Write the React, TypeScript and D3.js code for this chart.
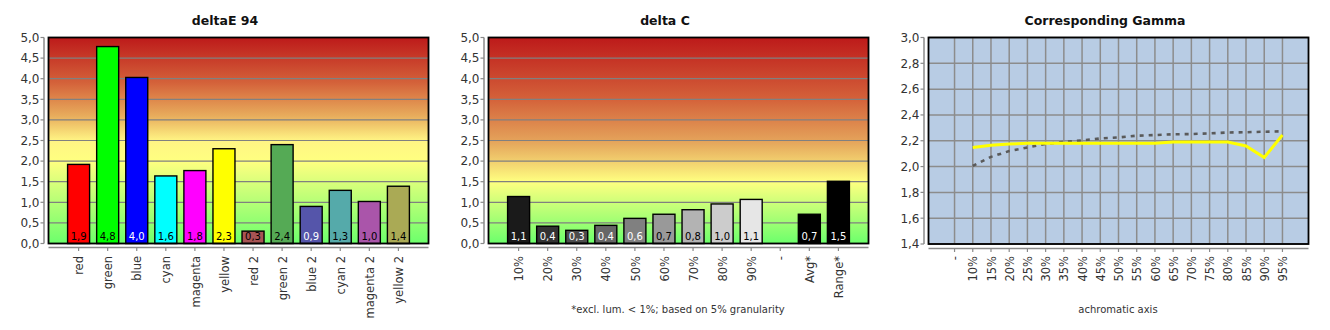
import React from 'react';
import * as d3 from 'd3';

// ---------- data ----------
const deCategories = ['red', 'green', 'blue', 'cyan', 'magenta', 'yellow', 'red 2', 'green 2', 'blue 2', 'cyan 2', 'magenta 2', 'yellow 2'];
const deValues = [1.92, 4.78, 4.03, 1.64, 1.77, 2.3, 0.3, 2.4, 0.9, 1.29, 1.02, 1.39];
const deColors = ['#ff0000', '#00ff00', '#0000ff', '#00ffff', '#ff00ff', '#ffff00', '#a85454', '#55aa55', '#5555aa', '#55aaaa', '#aa55aa', '#aaaa55'];
const deLabelColors = ['#000', '#000', '#fff', '#000', '#000', '#000', '#000', '#000', '#fff', '#000', '#000', '#000'];

const dcCategories = ['10%', '20%', '30%', '40%', '50%', '60%', '70%', '80%', '90%', '-', 'Avg*', 'Range*'];
const dcValues: (number | null)[] = [1.14, 0.42, 0.32, 0.44, 0.61, 0.71, 0.82, 0.96, 1.07, null, 0.71, 1.51];
const dcColors = ['#1a1a1a', '#333333', '#4d4d4d', '#666666', '#808080', '#999999', '#b3b3b3', '#cccccc', '#e6e6e6', '#000', '#000000', '#000000'];
const dcLabelColors = ['#fff', '#fff', '#fff', '#fff', '#fff', '#000', '#000', '#000', '#000', '#000', '#fff', '#fff'];

const gammaCategories = ['-', '10%', '15%', '20%', '25%', '30%', '35%', '40%', '45%', '50%', '55%', '60%', '65%', '70%', '75%', '80%', '85%', '90%', '95%'];
const gammaMeasured: (number | null)[] = [null, 2.148, 2.165, 2.175, 2.18, 2.18, 2.18, 2.18, 2.18, 2.18, 2.18, 2.18, 2.19, 2.19, 2.19, 2.19, 2.16, 2.07, 2.245];
const gammaTarget: (number | null)[] = [null, 2.005, 2.075, 2.12, 2.148, 2.175, 2.19, 2.203, 2.218, 2.226, 2.239, 2.244, 2.25, 2.252, 2.257, 2.264, 2.266, 2.27, 2.273];

const barTicks = [0, 0.5, 1, 1.5, 2, 2.5, 3, 3.5, 4, 4.5, 5];
const gammaTicks = [1.4, 1.6, 1.8, 2.0, 2.2, 2.4, 2.6, 2.8, 3.0];

// ---------- layout ----------
const FONT = 'DejaVu Sans, Verdana, sans-serif';
const PLOT_TOP = 37.5;
const PLOT_BOTTOM = 243.5;
const PLOT_W = 380;
const fmt = (v: number) => d3.format('.1f')(v).replace('.', ',');

type BarProps = {
  x0: number;
  title: string;
  titleX: number;
  categories: string[];
  values: (number | null)[];
  colors: string[];
  labelColors: string[];
  gradId: string;
  stops: [number, string][];
  note?: string;
  noteX?: number;
};

function BarPanel(p: BarProps) {
  const x1 = p.x0 + PLOT_W;
  const x = d3.scalePoint<string>().domain(p.categories).range([p.x0, x1]).padding(1.035);
  const y = d3.scaleLinear().domain([0, 5]).range([PLOT_BOTTOM, PLOT_TOP]);
  const bw = 22;
  return (
    <g>
      <defs>
        <linearGradient id={p.gradId} x1="0" y1="0" x2="0" y2="1">
          {p.stops.map(([o, c], i) => (
            <stop key={i} offset={o} stopColor={c} />
          ))}
        </linearGradient>
      </defs>
      <text x={p.titleX} y={25} textAnchor="middle" fontFamily={FONT} fontWeight="bold" fontSize={12.5} fill="#111">
        {p.title}
      </text>
      <rect x={p.x0} y={PLOT_TOP} width={PLOT_W} height={PLOT_BOTTOM - PLOT_TOP} fill={`url(#${p.gradId})`} />
      {barTicks.map((t) => (
        <line key={t} x1={p.x0} x2={x1} y1={y(t)} y2={y(t)} stroke="#808080" strokeWidth={1.2} />
      ))}
      {/* y axis */}
      <line x1={p.x0 - 4.5} x2={p.x0 - 4.5} y1={PLOT_TOP} y2={PLOT_BOTTOM} stroke="#8a8a8a" strokeWidth={1.5} />
      {barTicks.map((t) => (
        <g key={t}>
          <line x1={p.x0 - 8} x2={p.x0 - 4.5} y1={y(t)} y2={y(t)} stroke="#8a8a8a" strokeWidth={1.2} />
          <text x={p.x0 - 9} y={y(t)} dy="0.36em" textAnchor="end" fontFamily={FONT} fontSize={12} fill="#333">
            {fmt(t)}
          </text>
        </g>
      ))}
      {/* bars */}
      {p.categories.map((c, i) => {
        const v = p.values[i];
        if (v == null) return null;
        const cx = x(c)!;
        return (
          <g key={c}>
            <rect x={cx - bw / 2} y={y(v)} width={bw} height={y(0) - y(v)} fill={p.colors[i]} stroke="#000" strokeWidth={1.4} />
            <text x={cx} y={240} textAnchor="middle" fontFamily={FONT} fontSize={10} fill={p.labelColors[i]}>
              {fmt(v)}
            </text>
          </g>
        );
      })}
      <rect x={p.x0} y={PLOT_TOP} width={PLOT_W} height={PLOT_BOTTOM - PLOT_TOP} fill="none" stroke="#000" strokeWidth={1.8} />
      {/* x axis */}
      <line x1={p.x0} x2={x1} y1={247.5} y2={247.5} stroke="#8a8a8a" strokeWidth={1.5} />
      {p.categories.map((c) => (
        <g key={c}>
          <line x1={x(c)!} x2={x(c)!} y1={247.5} y2={251} stroke="#8a8a8a" strokeWidth={1.2} />
          <text transform={`translate(${x(c)! + 0.5},256) rotate(-90)`} dy="0.36em" textAnchor="end" fontFamily={FONT} fontSize={11.5} fill="#333">
            {c}
          </text>
        </g>
      ))}
      {p.note && (
        <text x={p.noteX} y={313} textAnchor="middle" fontFamily={FONT} fontSize={10} fill="#333">
          {p.note}
        </text>
      )}
    </g>
  );
}

function GammaPanel() {
  const x0 = 928.5;
  const x1 = x0 + PLOT_W;
  const yTop = 37.5;
  const yBot = 244;
  const x = d3.scalePoint<string>().domain(gammaCategories).range([x0, x1]).padding(1.43);
  const y = d3.scaleLinear().domain([1.4, 3.0]).range([yBot, yTop]);
  const line = d3
    .line<number | null>()
    .defined((d) => d != null)
    .x((_, i) => x(gammaCategories[i])!)
    .y((d) => y(d as number));
  return (
    <g>
      <text x={1105} y={25} textAnchor="middle" fontFamily={FONT} fontWeight="bold" fontSize={12.5} fill="#111">
        Corresponding Gamma
      </text>
      <rect x={x0} y={yTop} width={PLOT_W} height={yBot - yTop} fill="#b8cce4" />
      {gammaTicks.map((t) => (
        <line key={t} x1={x0} x2={x1} y1={y(t)} y2={y(t)} stroke="#8c8c8c" strokeWidth={1.5} />
      ))}
      {gammaCategories.map((c) => (
        <line key={c} x1={x(c)!} x2={x(c)!} y1={yTop} y2={yBot} stroke="#8c8c8c" strokeWidth={1.5} />
      ))}
      <path d={line(gammaTarget) || ''} fill="none" stroke="#5a5a5a" strokeWidth={2.6} strokeDasharray="4,5" />
      <path d={line(gammaMeasured) || ''} fill="none" stroke="#ffff00" strokeWidth={3} />
      <rect x={x0} y={yTop} width={PLOT_W} height={yBot - yTop} fill="none" stroke="#000" strokeWidth={1.8} />
      <line x1={x0 - 4.5} x2={x0 - 4.5} y1={yTop} y2={yBot} stroke="#8a8a8a" strokeWidth={1.5} />
      {gammaTicks.map((t) => (
        <g key={t}>
          <line x1={x0 - 8} x2={x0 - 4.5} y1={y(t)} y2={y(t)} stroke="#8a8a8a" strokeWidth={1.2} />
          <text x={x0 - 9} y={y(t)} dy="0.36em" textAnchor="end" fontFamily={FONT} fontSize={12} fill="#333">
            {fmt(t)}
          </text>
        </g>
      ))}
      <line x1={x0} x2={x1} y1={248.5} y2={248.5} stroke="#8a8a8a" strokeWidth={1.5} />
      {gammaCategories.map((c) => (
        <g key={c}>
          <line x1={x(c)!} x2={x(c)!} y1={248.5} y2={252} stroke="#8a8a8a" strokeWidth={1.2} />
          <text transform={`translate(${x(c)! + 0.5},256) rotate(-90)`} dy="0.36em" textAnchor="end" fontFamily={FONT} fontSize={11.5} fill="#333">
            {c}
          </text>
        </g>
      ))}
      <text x={1118} y={313} textAnchor="middle" fontFamily={FONT} fontSize={10} fill="#333">
        achromatic axis
      </text>
    </g>
  );
}

export default function App() {
  return (
    <svg width={1330} height={330} style={{ position: 'absolute', left: 0, top: 0, background: '#fff' }}>
      <rect width={1330} height={330} fill="#fff" />
      <BarPanel
        x0={48.5}
        title="deltaE 94"
        titleX={225}
        categories={deCategories}
        values={deValues}
        colors={deColors}
        labelColors={deLabelColors}
        gradId="gradDE"
        stops={[
          [0, '#bd1a1a'],
          [0.22, '#d4623a'],
          [0.38, '#e8ac5c'],
          [0.5, '#fff484'],
          [0.6, '#ffff80'],
          [1, '#6cff6c'],
        ]}
      />
      <BarPanel
        x0={488.5}
        title="delta C"
        titleX={665}
        categories={dcCategories}
        values={dcValues}
        colors={dcColors}
        labelColors={dcLabelColors}
        gradId="gradDC"
        stops={[
          [0, '#bd1a1a'],
          [0.3, '#d4623a'],
          [0.5, '#e4a25a'],
          [0.62, '#f4d872'],
          [0.7, '#ffff80'],
          [1, '#6cff6c'],
        ]}
        note="*excl. lum. < 1%; based on 5% granularity"
        noteX={678}
      />
      <GammaPanel />
    </svg>
  );
}
